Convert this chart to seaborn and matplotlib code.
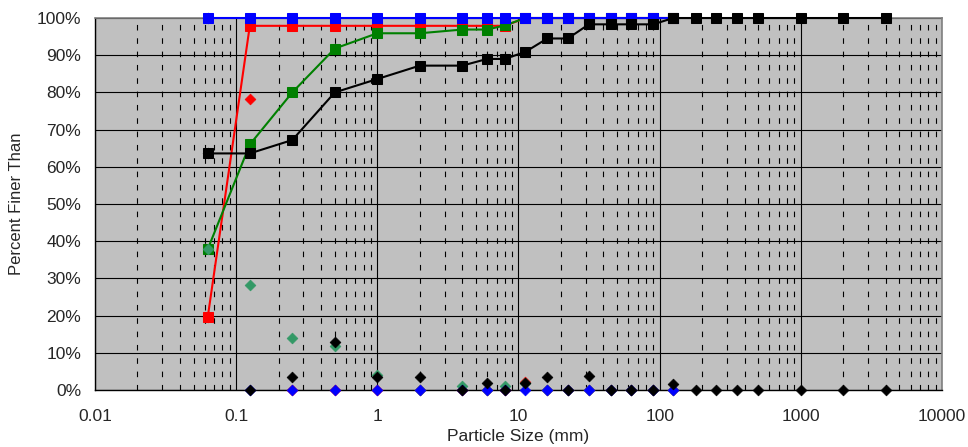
import numpy as np
import matplotlib
matplotlib.use("Agg")
import matplotlib.pyplot as plt
import seaborn as sns
from matplotlib.ticker import FixedLocator, FuncFormatter, NullFormatter

# sieve sizes (mm)
sizes = [0.063, 0.125, 0.25, 0.5, 1, 2, 4, 6, 8, 11.2, 16, 22.4, 31.5, 45,
         63, 90, 125, 180, 250, 355, 500, 1000, 2000, 4000]

# sample 1 (black) - cumulative percent finer and percent retained
black_cum = [63.6, 63.6, 67.2, 80.0, 83.6, 87.2, 87.2, 89.0, 89.0, 90.9, 94.5, 94.5,
             98.3, 98.3, 98.3, 98.3, 100, 100, 100, 100, 100, 100, 100, 100]
black_ret = [63.6, 0, 3.6, 12.8, 3.6, 3.6, 0, 1.8, 0, 1.9, 3.6, 0,
             3.8, 0, 0, 0, 1.7, 0, 0, 0, 0, 0, 0, 0]

# samples 2-4 only go up to 125 mm
short_sizes = sizes[:17]
red_cum = [19.7, 97.9, 97.9, 97.9, 97.9, 97.9, 97.9, 97.9, 97.9,
           100, 100, 100, 100, 100, 100, 100, 100]
red_ret = [19.7, 78.2, 0, 0, 0, 0, 0, 0, 0, 2.1, 0, 0, 0, 0, 0, 0, 0]
green_cum = [37.9, 66.0, 80.0, 91.8, 95.9, 95.9, 96.9, 96.9, 98.0,
             100, 100, 100, 100, 100, 100, 100, 100]
green_ret = [37.9, 28.1, 14.0, 11.8, 4.1, 0, 1.0, 0, 1.1, 2.0, 0, 0, 0, 0, 0, 0, 0]
blue_cum = [100] * 17
blue_ret = [100, 0, 0, 0, 0, 0, 0, 0, 0, 0, 0, 0, 0, 0, 0, 0, 0]

x_ticks = [0.01, 0.1, 1, 10, 100, 1000, 10000]
x_tick_labels = ["0.01", "0.1", "1", "10", "100", "1000", "10000"]

sns.set_style("white")
plt.rcParams['font.family'] = ['Liberation Sans', 'DejaVu Sans']

fig = plt.figure(figsize=(9.68, 4.47), dpi=100)
ax = fig.add_axes([0.0981, 0.1275, 0.8750, 0.8322])
ax.set_facecolor('#C0C0C0')

series = [
    (short_sizes, red_cum, red_ret, '#FF0000', '#FF0000', 3),
    (short_sizes, green_cum, green_ret, '#008000', '#339966', 4),
    (short_sizes, blue_cum, blue_ret, '#0000FF', '#0000FF', 5),
    (sizes, black_cum, black_ret, '#000000', '#000000', 6),
]
for xs, cum, ret, col, dcol, z in series:
    sns.lineplot(x=xs, y=cum, color=col, marker='s', markersize=6.5,
                 markeredgecolor=col, linewidth=1.5, ax=ax, clip_on=False,
                 zorder=z, estimator=None)
    sns.scatterplot(x=xs, y=ret, color=dcol, marker='D', s=30,
                    edgecolor=dcol, linewidth=0.5, ax=ax, clip_on=False,
                    zorder=z)

ax.set_xscale('log')
ax.set_xlim(0.01, 10000)
ax.set_ylim(0, 100)

minor = [m * d for d in x_ticks[:-1] for m in range(2, 10)]
ax.xaxis.set_major_locator(FixedLocator(x_ticks))
ax.xaxis.set_minor_locator(FixedLocator(minor))
ax.xaxis.set_minor_formatter(NullFormatter())
ax.set_xticklabels(x_tick_labels)
ax.yaxis.set_major_locator(FixedLocator(np.arange(0, 101, 10)))
ax.yaxis.set_major_formatter(FuncFormatter(lambda v, p: f"{v:.0f}%"))

ax.grid(which='major', axis='both', color='black', linewidth=0.8, linestyle='-')
ax.grid(which='minor', axis='x', color='black', linewidth=0.8, linestyle=(0, (5, 7)))
ax.set_axisbelow(True)

ax.tick_params(axis='both', which='major', direction='out', length=4, width=0.8,
               color='black', labelsize=12.5)
ax.tick_params(axis='x', which='major', pad=10)
ax.tick_params(axis='y', which='major', pad=6)
ax.tick_params(axis='both', which='minor', length=0)

for side in ['top', 'right']:
    ax.spines[side].set_color('#808080')
    ax.spines[side].set_linewidth(1.2)
for side in ['left', 'bottom']:
    ax.spines[side].set_color('black')
    ax.spines[side].set_linewidth(1.0)

ax.set_xlabel("Particle Size (mm)", fontsize=12.5, labelpad=3)
ax.set_ylabel("Percent Finer Than", fontsize=12, labelpad=9)

fig.savefig("out.png", dpi=100)
